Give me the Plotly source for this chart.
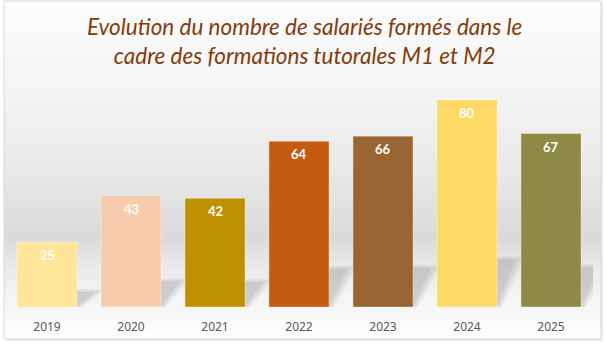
import plotly.graph_objects as go

# Data
years = ["2019", "2020", "2021", "2022", "2023", "2024", "2025"]
salaries_formes = [25, 43, 42, 64, 66, 80, 67]
bar_colors = ["#FFE699", "#F8CBAD", "#BF9000", "#C55A11", "#996633", "#FFD966", "#8C8A45"]
title_lines = ["Evolution du nombre de salariés formés dans le",
               "cadre des formations tutorales M1 et M2"]

W, H = 606, 344
M_L, M_R, M_T, M_B = 5, 13, 74, 37
Y_MAX = 90
BAR_WIDTH = 0.715

plot_w = W - M_L - M_R
plot_h = H - M_T - M_B


def px_x(px):
    return (px - M_L) / plot_w


def px_y(py):
    return (H - M_B - py) / plot_h


def hex_to_rgb(h):
    h = h.lstrip("#")
    return tuple(int(h[i:i + 2], 16) for i in (0, 2, 4))


def lerp_color(stops, py):
    for (y0, c0), (y1, c1) in zip(stops, stops[1:]):
        if y0 <= py <= y1:
            t = (py - y0) / (y1 - y0)
            a, b = hex_to_rgb(c0), hex_to_rgb(c1)
            return "rgb(%d,%d,%d)" % tuple(round(a[k] + (b[k] - a[k]) * t) for k in range(3))
    return stops[-1][1]


idx = list(range(len(years)))

fig = go.Figure()
fig.add_trace(go.Bar(
    x=idx,
    y=salaries_formes,
    width=BAR_WIDTH,
    marker=dict(color=bar_colors, line=dict(color="rgba(255,255,255,0.35)", width=1)),
    hoverinfo="x+y",
))

shapes = []

# frame shadow and background gradient of the chart area
FX0, FX1, FY0, FY1 = 4, 601, 1, 339
shapes.append(dict(type="rect", xref="paper", yref="paper", layer="below",
                   x0=px_x(FX0 + 1), x1=px_x(FX1 + 2), y0=px_y(FY0 + 1), y1=px_y(FY1 + 2),
                   fillcolor="#ececec", line=dict(width=0)))
grad_stops = [(0, "#fcfcfc"), (90, "#f4f4f4"), (170, "#e9e9e9"), (238, "#dadada"),
              (265, "#e9e9e9"), (295, "#f3f3f3"), (339, "#fefefe")]
step = 2
py = FY0
while py < FY1:
    shapes.append(dict(type="rect", xref="paper", yref="paper", layer="below",
                       x0=px_x(FX0), x1=px_x(FX1), y0=px_y(min(py + step + 0.5, FY1)), y1=px_y(py),
                       fillcolor=lerp_color(grad_stops, py + step / 2), line=dict(width=0)))
    py += step
shapes.append(dict(type="rect", xref="paper", yref="paper", layer="below",
                   x0=px_x(FX0), x1=px_x(FX1), y0=px_y(FY1), y1=px_y(FY0),
                   fillcolor="rgba(0,0,0,0)", line=dict(color="#d9d9d9", width=1)))

# soft perspective shadows cast behind each bar
for i, v in zip(idx, salaries_formes):
    for grow, alpha in [(0.06, 0.09), (0.03, 0.11), (0.0, 0.14)]:
        h = 0.23 * v + grow * 20
        d = 0.22 + grow
        xl = i - BAR_WIDTH / 2
        xr = i + BAR_WIDTH / 2 + grow
        path = f"M {xl},0 L {xr},0 L {xr + d},{h} L {xl + d},{h} Z"
        shapes.append(dict(type="path", xref="x", yref="y", layer="below", path=path,
                           fillcolor=f"rgba(120,120,120,{alpha})", line=dict(width=0)))

annotations = []

# chart title
annotations.append(dict(text="<br>".join(title_lines), xref="paper", yref="paper",
                        x=px_x(304), y=px_y(11), xanchor="center", yanchor="top",
                        showarrow=False, align="center",
                        font=dict(family="Lato", size=22.5, color="#843C0C", style="italic")))

# value labels inside the top of each bar
for i, v in zip(idx, salaries_formes):
    annotations.append(dict(x=i, y=v, xref="x", yref="y", text=str(v), showarrow=False,
                            yanchor="middle", yshift=-13,
                            font=dict(family="Lato", size=13, color="white", weight="bold")))

fig.update_layout(
    width=W, height=H,
    margin=dict(l=M_L, r=M_R, t=M_T, b=M_B),
    paper_bgcolor="white",
    plot_bgcolor="rgba(0,0,0,0)",
    showlegend=False,
    bargap=1 - BAR_WIDTH,
    xaxis=dict(range=[-0.5, len(years) - 0.5], tickvals=idx, ticktext=years,
               showgrid=False, zeroline=False, showline=False, ticks="",
               ticklabelstandoff=11,
               tickfont=dict(family="Noto Sans", size=12, color="#595959")),
    yaxis=dict(range=[0, Y_MAX], visible=False, showgrid=False, zeroline=False),
    shapes=shapes,
    annotations=annotations,
)

fig.write_html("out.html")
